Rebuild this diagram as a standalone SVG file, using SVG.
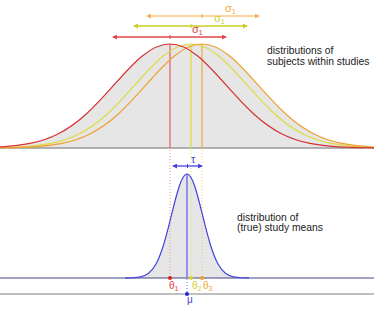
<svg xmlns="http://www.w3.org/2000/svg" xmlns:xlink="http://www.w3.org/1999/xlink" width="374" height="312" viewBox="0 0 374 312">
<style>
text{font-family:"Liberation Sans",Arial,sans-serif}
.lbl{font-size:10.3px;fill:#222}
.sym{font-size:11px}
.sub{font-size:7px}
.curve{fill:none;stroke-width:1.2px}
.fill{fill:#e6e6e6;stroke:none}
.dot{stroke-width:1;stroke-dasharray:1 2;fill:none}
.arr{stroke-width:1.3;fill:none}
</style>
<defs>
<path id="gt" d="M-224,147.97 C-214.67,147.95 -205.33,147.91 -196,147.77 C-186.67,147.64 -177.33,147.43 -168,146.85 C-158.67,146.26 -149.33,145.34 -140,143.43 C-130.67,141.53 -121.33,138.62 -112,133.93 C-102.67,129.24 -93.33,122.68 -84,114.23 C-74.67,105.79 -65.33,95.44 -56,84.92 C-46.67,74.41 -37.33,63.86 -28,56.22 C-18.67,48.58 -9.33,44 0,44 C9.33,44 18.67,48.58 28,56.22 C37.33,63.86 46.67,74.41 56,84.92 C65.33,95.44 74.67,105.79 84,114.23 C93.33,122.68 102.67,129.24 112,133.93 C121.33,138.62 130.67,141.53 140,143.43 C149.33,145.34 158.67,146.26 168,146.85 C177.33,147.43 186.67,147.64 196,147.77 C205.33,147.91 214.67,147.95 224,147.97"/>
<path id="gtf" d="M-224,148 L-224,147.97 C-214.67,147.95 -205.33,147.91 -196,147.77 C-186.67,147.64 -177.33,147.43 -168,146.85 C-158.67,146.26 -149.33,145.34 -140,143.43 C-130.67,141.53 -121.33,138.62 -112,133.93 C-102.67,129.24 -93.33,122.68 -84,114.23 C-74.67,105.79 -65.33,95.44 -56,84.92 C-46.67,74.41 -37.33,63.86 -28,56.22 C-18.67,48.58 -9.33,44 0,44 C9.33,44 18.67,48.58 28,56.22 C37.33,63.86 46.67,74.41 56,84.92 C65.33,95.44 74.67,105.79 84,114.23 C93.33,122.68 102.67,129.24 112,133.93 C121.33,138.62 130.67,141.53 140,143.43 C149.33,145.34 158.67,146.26 168,146.85 C177.33,147.43 186.67,147.64 196,147.77 C205.33,147.91 214.67,147.95 224,147.97 L224,148 Z"/>
<path id="gb" d="M-62,277.97 C-59.42,277.95 -56.83,277.91 -54.25,277.77 C-51.67,277.64 -49.08,277.43 -46.5,276.85 C-43.92,276.26 -41.33,275.34 -38.75,273.43 C-36.17,271.53 -33.58,268.62 -31,263.93 C-28.42,259.24 -25.83,252.68 -23.25,244.23 C-20.67,235.79 -18.08,225.44 -15.5,214.92 C-12.92,204.41 -10.33,193.86 -7.75,186.22 C-5.17,178.58 -2.58,174 0,174 C2.58,174 5.17,178.58 7.75,186.22 C10.33,193.86 12.92,204.41 15.5,214.92 C18.08,225.44 20.67,235.79 23.25,244.23 C25.83,252.68 28.42,259.24 31,263.93 C33.58,268.62 36.17,271.53 38.75,273.43 C41.33,275.34 43.92,276.26 46.5,276.85 C49.08,277.43 51.67,277.64 54.25,277.77 C56.83,277.91 59.42,277.95 62,277.97"/>
<marker id="mR" viewBox="0 0 6 6" refX="5" refY="3" markerWidth="5" markerHeight="5" markerUnits="userSpaceOnUse" orient="auto-start-reverse"><path d="M0,0 L6,3 L0,6 Z" fill="#e04848"/></marker>
<marker id="mY" viewBox="0 0 6 6" refX="5" refY="3" markerWidth="5" markerHeight="5" markerUnits="userSpaceOnUse" orient="auto-start-reverse"><path d="M0,0 L6,3 L0,6 Z" fill="#cccc22"/></marker>
<marker id="mO" viewBox="0 0 6 6" refX="5" refY="3" markerWidth="5" markerHeight="5" markerUnits="userSpaceOnUse" orient="auto-start-reverse"><path d="M0,0 L6,3 L0,6 Z" fill="#f5b050"/></marker>
<marker id="mB" viewBox="0 0 6 6" refX="5" refY="3" markerWidth="5" markerHeight="5" markerUnits="userSpaceOnUse" orient="auto-start-reverse"><path d="M0,0 L6,3 L0,6 Z" fill="#4444dd"/></marker>
</defs>

<g id="fills">
<use xlink:href="#gtf" href="#gtf" class="fill" transform="translate(170,0)"/>
<use xlink:href="#gtf" href="#gtf" class="fill" transform="translate(191,0)"/>
<use xlink:href="#gtf" href="#gtf" class="fill" transform="translate(202,0)"/>
<use xlink:href="#gb" href="#gb" class="fill" transform="translate(187,0)"/>
</g>

<g id="axes">
<line x1="0" y1="148" x2="374" y2="148" stroke="#999" stroke-width="1.5"/>
<line x1="0" y1="278" x2="374" y2="278" stroke="#444488" stroke-width="1.2"/>
<line x1="0" y1="294" x2="374" y2="294" stroke="#aaa" stroke-width="1.5"/>
</g>

<g id="connectors">
<line x1="170" y1="44" x2="170" y2="148" stroke="#e06060" stroke-width="1.2"/>
<line x1="191" y1="45" x2="191" y2="148" stroke="#dcdc55" stroke-width="1.5"/>
<line x1="202" y1="44" x2="202" y2="148" stroke="#f0a840" stroke-width="1.2"/>
<line class="dot" x1="170" y1="150" x2="170" y2="278" stroke="#f09090"/>
<line class="dot" x1="191" y1="150" x2="191" y2="278" stroke="#e8e070"/>
<line class="dot" x1="202" y1="150" x2="202" y2="278" stroke="#f5c070"/>
<line class="dot" x1="187" y1="279" x2="187" y2="294" stroke="#7777ee"/>
<line x1="187" y1="174" x2="187" y2="278" stroke="#8888ee" stroke-width="1.8"/>
<line class="arr" x1="147" y1="16" x2="259" y2="16" stroke="#f8c880" marker-start="url(#mO)" marker-end="url(#mO)"/>
<line x1="202" y1="14" x2="202" y2="18" stroke="#f0a840" stroke-width="1"/>
<line class="arr" x1="134" y1="26" x2="247" y2="26" stroke="#cccc22" marker-start="url(#mY)" marker-end="url(#mY)"/>
<line x1="191" y1="24" x2="191" y2="28" stroke="#cccc22" stroke-width="1"/>
<line class="arr" x1="113" y1="37" x2="226" y2="37" stroke="#e04848" marker-start="url(#mR)" marker-end="url(#mR)"/>
<line x1="170" y1="35" x2="170" y2="39" stroke="#e04848" stroke-width="1"/>
<line class="arr" x1="173" y1="166" x2="202" y2="166" stroke="#4444dd" marker-start="url(#mB)" marker-end="url(#mB)"/>
<line x1="187.5" y1="164" x2="187.5" y2="168" stroke="#4444dd" stroke-width="1"/>
</g>

<g id="curves">
<use xlink:href="#gt" href="#gt" class="curve" stroke="#dcdc40" transform="translate(191,0)"/>
<use xlink:href="#gt" href="#gt" class="curve" stroke="#f0a030" transform="translate(202,0)"/>
<use xlink:href="#gt" href="#gt" class="curve" stroke="#d83030" transform="translate(170,0)"/>
<use xlink:href="#gb" href="#gb" class="curve" stroke="#4444dd" transform="translate(187,0)"/>
</g>

<g id="dots">
<circle cx="170" cy="278" r="2" fill="#dd2222"/>
<circle cx="191" cy="278" r="2" fill="#d8d820"/>
<circle cx="202" cy="278" r="2" fill="#f0a020"/>
<circle cx="187" cy="294" r="2" fill="#2222dd"/>
</g>

<g id="labels">
<text class="sym" x="225" y="12" fill="#f0a838">σ<tspan class="sub" dy="2">1</tspan></text>
<text class="sym" x="214" y="22" fill="#d0d030">σ<tspan class="sub" dy="2">1</tspan></text>
<text class="sym" x="192" y="33" fill="#e04040">σ<tspan class="sub" dy="2">1</tspan></text>
<text class="sym" x="191" y="163" font-size="10px" fill="#4444dd">τ</text>
<text x="169" y="289" font-size="10px" fill="#e04040">θ<tspan class="sub" dy="2">1</tspan></text>
<text x="192" y="289" font-size="10px" fill="#d0d030">θ<tspan class="sub" dy="2">2</tspan></text>
<text x="203" y="289" font-size="10px" fill="#f0a838">θ<tspan class="sub" dy="2">3</tspan></text>
<text x="187" y="303" font-size="10px" fill="#4444dd">μ</text>
<text class="lbl" x="267" y="54">distributions of</text>
<text class="lbl" x="267" y="65">subjects within studies</text>
<text class="lbl" x="237" y="221">distribution of</text>
<text class="lbl" x="237" y="231">(true) study means</text>
</g>
</svg>
